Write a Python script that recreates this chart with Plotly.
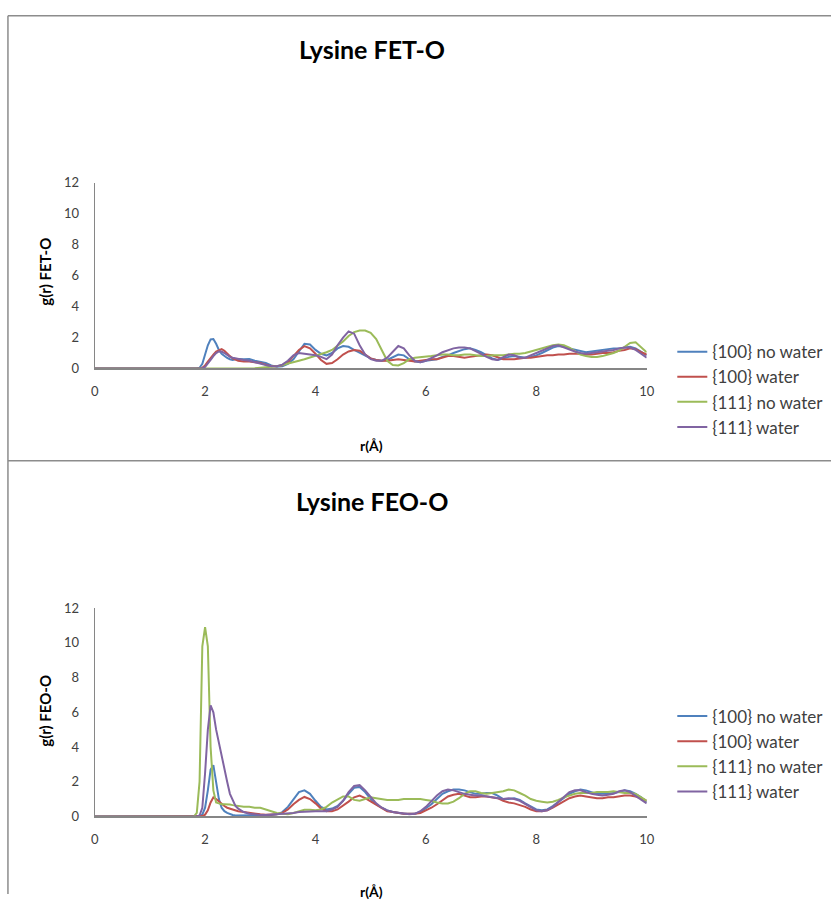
import plotly.graph_objects as go

# r grid (Å)
R = [0.0, 1.8, 1.85, 1.9, 1.95, 2.0, 2.05, 2.1, 2.15, 2.2, 2.25, 2.3, 2.35, 2.4, 2.45, 2.5, 2.55, 2.6,
     2.7, 2.8, 2.9,
     3.0, 3.1, 3.2, 3.3, 3.4, 3.5, 3.6, 3.7, 3.8, 3.9,
     4.0, 4.1, 4.2, 4.3, 4.4, 4.5, 4.6, 4.7, 4.8, 4.9,
     5.0, 5.1, 5.2, 5.3, 5.4, 5.5, 5.6, 5.7, 5.8, 5.9,
     6.0, 6.1, 6.2, 6.3, 6.4, 6.5, 6.6, 6.7, 6.8, 6.9,
     7.0, 7.1, 7.2, 7.3, 7.4, 7.5, 7.6, 7.7, 7.8, 7.9,
     8.0, 8.1, 8.2, 8.3, 8.4, 8.5, 8.6, 8.7, 8.8, 8.9,
     9.0, 9.1, 9.2, 9.3, 9.4, 9.5, 9.6, 9.7, 9.8, 9.9,
     10.0]

SERIES = ["{100} no water", "{100} water", "{111} no water", "{111} water"]
COLORS = ["#4F81BD", "#C0504D", "#9BBB59", "#8064A2"]

# ---------- Lysine FET-O ----------
FET_100_NOWATER = [0, 0, 0, 0.05, 0.3, 0.9, 1.5, 1.88, 1.9, 1.6, 1.2, 0.95, 0.8, 0.68, 0.6, 0.55, 0.6, 0.62,
                   0.6, 0.62, 0.5,
                   0.42, 0.35, 0.2, 0.12, 0.15, 0.3, 0.6, 1.1, 1.6, 1.55,
                   1.2, 0.95, 0.85, 1.0, 1.3, 1.45, 1.4, 1.2, 1.0, 0.8,
                   0.65, 0.55, 0.5, 0.55, 0.7, 0.9, 0.85, 0.6, 0.45, 0.4,
                   0.5, 0.55, 0.6, 0.75, 0.85, 1.0, 1.15, 1.25, 1.3, 1.2,
                   1.05, 0.85, 0.65, 0.55, 0.65, 0.75, 0.8, 0.75, 0.7, 0.75,
                   0.85, 1.0, 1.2, 1.35, 1.45, 1.4, 1.3, 1.2, 1.1, 1.05,
                   1.1, 1.15, 1.2, 1.25, 1.3, 1.3, 1.35, 1.4, 1.3, 1.1,
                   0.85]
FET_100_WATER = [0, 0, 0, 0, 0.05, 0.2, 0.45, 0.7, 0.9, 1.1, 1.2, 1.25, 1.15, 0.95, 0.8, 0.65, 0.55, 0.5,
                 0.45, 0.45, 0.4,
                 0.35, 0.25, 0.15, 0.15, 0.2, 0.4, 0.8, 1.2, 1.45, 1.3,
                 0.95, 0.55, 0.3, 0.35, 0.6, 0.9, 1.1, 1.2, 1.15, 0.9,
                 0.65, 0.55, 0.5, 0.5, 0.55, 0.6, 0.55, 0.5, 0.45, 0.5,
                 0.55, 0.6, 0.6, 0.7, 0.8, 0.8, 0.75, 0.7, 0.75, 0.8,
                 0.85, 0.9, 0.85, 0.7, 0.6, 0.6, 0.6, 0.65, 0.7, 0.7,
                 0.75, 0.8, 0.85, 0.85, 0.9, 0.9, 0.95, 0.95, 0.95, 0.9,
                 0.9, 0.95, 1.0, 1.0, 1.05, 1.15, 1.2, 1.3, 1.25, 1.05,
                 0.9]
FET_111_NOWATER = [0, 0, 0, 0, 0, 0, 0, 0, 0, 0, 0, 0, 0, 0, 0, 0, 0, 0,
                   0, 0, 0.02,
                   0.05, 0.08, 0.1, 0.15, 0.22, 0.3, 0.4, 0.5, 0.6, 0.7,
                   0.8, 0.9, 1.05, 1.2, 1.45, 1.75, 2.1, 2.35, 2.45, 2.45,
                   2.3, 1.9, 1.2, 0.5, 0.22, 0.2, 0.35, 0.6, 0.7, 0.72,
                   0.75, 0.8, 0.85, 0.9, 0.9, 0.85, 0.85, 0.9, 0.9, 0.85,
                   0.8, 0.8, 0.85, 0.85, 0.85, 0.9, 0.95, 0.95, 1.0, 1.1,
                   1.2, 1.3, 1.4, 1.5, 1.55, 1.5, 1.35, 1.1, 0.9, 0.8,
                   0.75, 0.75, 0.8, 0.9, 1.0, 1.15, 1.4, 1.65, 1.7, 1.4,
                   1.05]
FET_111_WATER = [0, 0, 0, 0, 0.02, 0.1, 0.3, 0.55, 0.8, 1.0, 1.1, 1.1, 1.0, 0.85, 0.75, 0.7, 0.65, 0.6,
                 0.55, 0.5, 0.4,
                 0.3, 0.22, 0.15, 0.15, 0.25, 0.5, 0.85, 1.0, 0.95, 0.9,
                 0.85, 0.75, 0.6, 0.9, 1.5, 2.0, 2.4, 2.25, 1.5, 0.9,
                 0.6, 0.5, 0.5, 0.7, 1.1, 1.45, 1.3, 0.85, 0.5, 0.4,
                 0.5, 0.65, 0.85, 1.05, 1.2, 1.3, 1.35, 1.35, 1.3, 1.15,
                 0.95, 0.75, 0.6, 0.55, 0.7, 0.9, 0.85, 0.7, 0.7, 0.85,
                 1.0, 1.15, 1.3, 1.45, 1.5, 1.35, 1.2, 1.1, 1.0, 0.95,
                 1.0, 1.05, 1.1, 1.15, 1.2, 1.3, 1.35, 1.35, 1.2, 0.95,
                 0.7]

# ---------- Lysine FEO-O ----------
FEO_100_NOWATER = [0, 0, 0, 0, 0.1, 0.5, 1.5, 2.7, 2.95, 2.0, 1.0, 0.5, 0.3, 0.2, 0.12, 0.08, 0.05, 0.05,
                   0.05, 0.05, 0.05,
                   0.05, 0.05, 0.08, 0.12, 0.25, 0.55, 1.0, 1.4, 1.5, 1.3,
                   0.9, 0.55, 0.4, 0.45, 0.6, 0.9, 1.3, 1.65, 1.7, 1.4,
                   1.0, 0.7, 0.5, 0.35, 0.25, 0.2, 0.15, 0.15, 0.15, 0.25,
                   0.45, 0.7, 1.0, 1.3, 1.45, 1.55, 1.55, 1.5, 1.4, 1.3,
                   1.3, 1.35, 1.35, 1.2, 1.0, 1.0, 1.05, 0.95, 0.75, 0.55,
                   0.4, 0.35, 0.4, 0.6, 0.85, 1.1, 1.3, 1.45, 1.55, 1.5,
                   1.4, 1.3, 1.3, 1.3, 1.35, 1.4, 1.5, 1.45, 1.3, 1.1,
                   0.8]
FEO_100_WATER = [0, 0, 0, 0, 0.02, 0.1, 0.35, 0.8, 1.1, 1.0, 0.85, 0.7, 0.6, 0.5, 0.45, 0.4, 0.35, 0.3,
                 0.25, 0.2, 0.15,
                 0.12, 0.1, 0.1, 0.12, 0.2, 0.4, 0.7, 0.95, 1.12, 1.0,
                 0.75, 0.45, 0.3, 0.3, 0.4, 0.6, 0.85, 1.1, 1.2, 1.05,
                 0.85, 0.65, 0.45, 0.3, 0.25, 0.2, 0.15, 0.15, 0.15, 0.2,
                 0.35, 0.5, 0.7, 0.95, 1.15, 1.25, 1.3, 1.2, 1.1, 1.1,
                 1.15, 1.15, 1.1, 1.05, 0.9, 0.8, 0.75, 0.65, 0.55, 0.4,
                 0.3, 0.3, 0.35, 0.5, 0.7, 0.9, 1.05, 1.15, 1.2, 1.15,
                 1.1, 1.05, 1.05, 1.1, 1.1, 1.15, 1.2, 1.2, 1.15, 1.05,
                 0.9]
FEO_111_NOWATER = [0, 0, 0.2, 2.0, 9.8, 10.9, 9.8, 4.0, 1.5, 0.8, 0.75, 0.7, 0.7, 0.7, 0.68, 0.65, 0.62, 0.6,
                   0.55, 0.55, 0.5,
                   0.5, 0.4, 0.3, 0.2, 0.15, 0.12, 0.2, 0.3, 0.38, 0.38,
                   0.35, 0.4, 0.55, 0.8, 1.0, 1.15, 1.15, 0.95, 0.9, 1.0,
                   1.1, 1.05, 1.0, 0.95, 0.95, 0.95, 1.0, 1.0, 1.0, 1.0,
                   0.95, 0.9, 0.8, 0.75, 0.75, 0.85, 1.05, 1.3, 1.45, 1.45,
                   1.35, 1.3, 1.35, 1.4, 1.45, 1.55, 1.5, 1.35, 1.2, 1.0,
                   0.9, 0.85, 0.8, 0.85, 0.95, 1.1, 1.2, 1.3, 1.35, 1.35,
                   1.35, 1.4, 1.4, 1.4, 1.45, 1.4, 1.35, 1.35, 1.3, 1.1,
                   0.9]
FEO_111_WATER = [0, 0, 0, 0.05, 0.5, 2.5, 5.0, 6.4, 6.0, 5.0, 4.2, 3.4, 2.8, 2.0, 1.3, 0.9, 0.6, 0.45,
                 0.25, 0.15, 0.1,
                 0.08, 0.08, 0.1, 0.1, 0.12, 0.15, 0.2, 0.25, 0.28, 0.3,
                 0.3, 0.3, 0.3, 0.4, 0.55, 0.9, 1.4, 1.75, 1.8, 1.5,
                 1.1, 0.75, 0.5, 0.35, 0.25, 0.2, 0.15, 0.12, 0.15, 0.3,
                 0.55, 0.9, 1.2, 1.45, 1.55, 1.5, 1.4, 1.3, 1.25, 1.2,
                 1.2, 1.15, 1.1, 1.05, 1.0, 1.05, 1.0, 0.9, 0.7, 0.5,
                 0.35, 0.3, 0.35, 0.55, 0.85, 1.15, 1.4, 1.5, 1.5, 1.4,
                 1.3, 1.25, 1.2, 1.25, 1.3, 1.45, 1.5, 1.4, 1.2, 1.0,
                 0.75]

TOP = [FET_100_NOWATER, FET_100_WATER, FET_111_NOWATER, FET_111_WATER]
BOTTOM = [FEO_100_NOWATER, FEO_100_WATER, FEO_111_NOWATER, FEO_111_WATER]

W, H = 839, 902
def px(x):
    return x / W
def py(y):
    return 1 - y / H

FONT = "Lato, 'Open Sans', sans-serif"

fig = go.Figure()
for name, col, ys in zip(SERIES, COLORS, TOP):
    fig.add_trace(go.Scatter(x=R, y=ys, mode="lines", name=name, line=dict(color=col, width=2),
                             xaxis="x", yaxis="y", legend="legend"))
for name, col, ys in zip(SERIES, COLORS, BOTTOM):
    fig.add_trace(go.Scatter(x=R, y=ys, mode="lines", name=name, line=dict(color=col, width=2),
                             xaxis="x2", yaxis="y2", legend="legend2"))

xa_common = dict(showgrid=False, zeroline=False, showline=True, linecolor="#868686", linewidth=1.5,
                 ticks="outside", ticklen=10, tickcolor="rgba(0,0,0,0)",
                 tickfont=dict(family=FONT, size=13, color="#404040"))
ya_common = dict(showgrid=False, zeroline=False, showline=True, linecolor="#868686", linewidth=1,
                 ticks="outside", ticklen=12, tickcolor="rgba(0,0,0,0)",
                 tickfont=dict(family=FONT, size=13, color="#404040"))
xdom = [px(92), px(652)]
leg_font = dict(family=FONT, size=17, color="#404040")
fig.update_layout(
    width=W, height=H, margin=dict(l=0, r=0, t=0, b=0),
    paper_bgcolor="white", plot_bgcolor="white",
    xaxis=dict(domain=xdom, range=[0, 10], dtick=2, anchor="y", **xa_common),
    yaxis=dict(domain=[py(367), py(178)], range=[0, 12], dtick=2, anchor="x", **ya_common),
    xaxis2=dict(domain=xdom, range=[0, 10], dtick=2, anchor="y2", **xa_common),
    yaxis2=dict(domain=[py(823), py(611)], range=[0, 12], dtick=2, anchor="x2", **ya_common),
    legend=dict(x=px(678), y=py(332), xanchor="left", yanchor="top", itemwidth=30,
                font=leg_font, bgcolor="rgba(0,0,0,0)", tracegroupgap=0),
    legend2=dict(x=px(678), y=py(703), xanchor="left", yanchor="top", itemwidth=30,
                 font=leg_font, bgcolor="rgba(0,0,0,0)", tracegroupgap=0),
    showlegend=True,
)

# chart area borders (top, left, divider)
border = dict(color="#8C8C8C", width=1.5)
for y0 in [8, 461]:
    fig.add_shape(type="line", xref="paper", yref="paper", x0=px(4), x1=1.0, y0=py(y0), y1=py(y0),
                  line=border, layer="below")
fig.add_shape(type="line", xref="paper", yref="paper", x0=px(4), x1=px(4), y0=py(8), y1=0.0,
              line=border, layer="below")

ann = []
for title, ty, ytitle, axy, ycen in [("Lysine FET-O", 42, "g(r) FET-O", 445, 268),
                                     ("Lysine FEO-O", 502, "g(r) FEO-O", 899, 715)]:
    ann.append(dict(text="<b>%s</b>" % title, x=px(373), y=py(ty), xref="paper", yref="paper",
                    showarrow=False, xanchor="center", yanchor="middle",
                    font=dict(family=FONT, size=25, color="#000000")))
    ann.append(dict(text="<b>r(Å)</b>", x=px(373), y=py(axy), xref="paper", yref="paper",
                    showarrow=False, xanchor="center", yanchor="middle",
                    font=dict(family=FONT, size=14, color="#000000")))
    ann.append(dict(text="<b>%s</b>" % ytitle, x=px(42), y=py(ycen), xref="paper", yref="paper",
                    showarrow=False, textangle=-90, xanchor="center", yanchor="middle",
                    font=dict(family=FONT, size=15, color="#000000")))
fig.update_layout(annotations=ann)

fig.write_html("out.html", config={"displayModeBar": False},
               post_script="document.body.style.margin='0px';")
